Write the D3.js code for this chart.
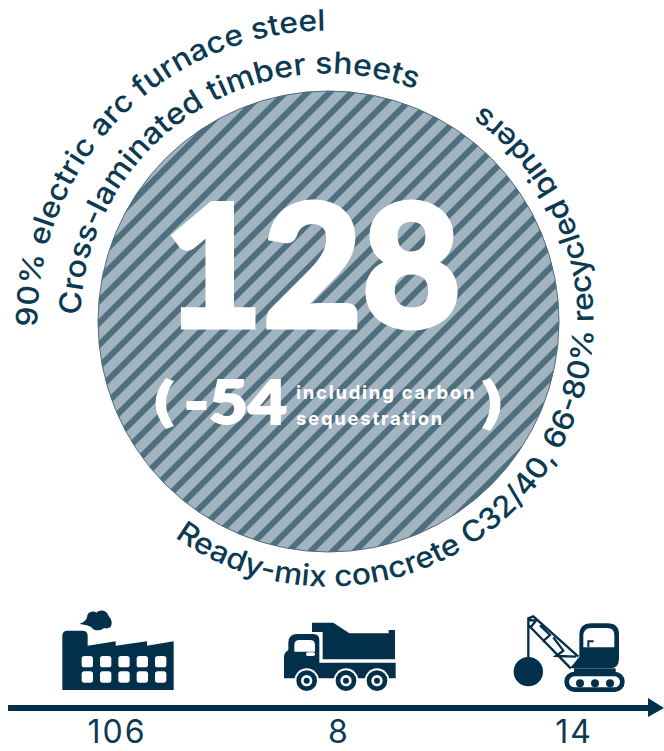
<!DOCTYPE html>
<html>
<head>
<meta charset="utf-8">
<script src="https://cdnjs.cloudflare.com/ajax/libs/d3/7.8.5/d3.min.js"></script>
<style>
html,body{margin:0;padding:0;background:#fff}
svg{display:block}
</style>
</head>
<body>
<svg id="chart" width="664" height="751"></svg>
<script>
// Embodied carbon totals
const totalValue = [128];
const sequestrationValue = [-54];
const sequestrationNote = ["including carbon", "sequestration"];
const materialLabels = [
  "90% electric arc furnace steel",
  "Cross-laminated timber sheets",
  "Ready-mix concrete C32/40, 66-80% recycled binders"
];
const stages = ["factory", "truck", "crane"];
const stageValues = [106, 8, 14];

const DARK = "#02304a", TEXT = "#0c3a52";
const svg = d3.select("#chart");
const cx = 328.5, cy = 321.5;

// Circle area follows the total
const radius = d3.scaleSqrt().domain([0, 128]).range([0, 230.5]);
const stageX = d3.scaleOrdinal().domain(stages).range([117, 339, 574]);
const r0 = radius(totalValue[0]);

const defs = svg.append("defs");
defs.append("clipPath").attr("id", "disc")
  .append("circle").attr("cx", cx).attr("cy", cy).attr("r", r0);

svg.append("circle")
  .attr("cx", cx).attr("cy", cy).attr("r", r0)
  .attr("fill", "#a2b4bf").attr("stroke", "#4f6f7e").attr("stroke-width", 1);

// Diagonal hatching, one line per step of x + y
const stripeStep = 22, stripeWidth = 6;
svg.append("g").attr("clip-path", "url(#disc)")
  .selectAll("line")
  .data(d3.range(-32, 52))
  .join("line")
  .attr("x1", k => 774 + k * stripeStep)
  .attr("y1", 0)
  .attr("x2", k => 774 + k * stripeStep - 751)
  .attr("y2", 751)
  .attr("stroke", "#4f6f7e").attr("stroke-width", stripeWidth);

// Curved material labels around the circle
const deg = d => d * Math.PI / 180;
const arcs = [
  { r: 291, a0: 179, a1: 285, ccw: false, len: 459, size: 29.5 },
  { r: 248, a0: 181.5, a1: 300, ccw: false, len: 472, size: 30 },
  { r: 265, a0: 125.5, a1: -65, ccw: true, len: 832, size: 29.5 }
];
arcs.forEach((a, i) => {
  const p = d3.path();
  p.arc(cx, cy, a.r, deg(a.a0), deg(a.a1), a.ccw);
  defs.append("path").attr("id", "arc" + i).attr("d", p.toString());
  svg.append("text")
    .attr("font-family", "Inter").attr("font-weight", 500)
    .attr("font-size", a.size).attr("fill", TEXT)
    .append("textPath")
    .attr("href", "#arc" + i)
    .attr("textLength", a.len).attr("lengthAdjust", "spacingAndGlyphs")
    .text(materialLabels[i]);
});

// Centre figures
svg.append("text")
  .attr("x", 164).attr("y", 327)
  .attr("textLength", 297).attr("lengthAdjust", "spacingAndGlyphs")
  .attr("font-family", "Lato").attr("font-weight", 900).attr("font-size", 170)
  .attr("stroke", "#fff").attr("stroke-width", 5).attr("stroke-linejoin", "miter")
  .attr("fill", "#fff").text(totalValue[0]);
svg.append("text")
  .attr("x", 184).attr("y", 424)
  .attr("textLength", 103).attr("lengthAdjust", "spacingAndGlyphs")
  .attr("font-family", "Lato").attr("font-weight", 900).attr("font-size", 60)
  .attr("stroke", "#fff").attr("stroke-width", 2)
  .attr("fill", "#fff").text(String(sequestrationValue[0]));
sequestrationNote.forEach((t, i) => {
  svg.append("text")
    .attr("x", 296).attr("y", 399 + i * 26)
    .attr("font-family", "Inter").attr("font-weight", 700).attr("font-size", 18.5)
    .attr("letter-spacing", 1.75).attr("fill", "#fff").text(t);
});
const parenShapes = [
  "M166 378 L174 381 Q158 403 174 426 L166 429 Q145 403 166 378 Z",
  "M490 378 L482 381 Q498 404 482 428 L490 431 Q511 404 490 378 Z"
];
svg.selectAll("path.paren").data(parenShapes).join("path")
  .attr("class", "paren").attr("d", d => d).attr("fill", "#fff");

// Timeline arrow
const axisLine = d3.line();
svg.append("path")
  .attr("d", axisLine([[8, 708], [650, 708]]))
  .attr("stroke", DARK).attr("stroke-width", 6).attr("fill", "none");
svg.append("path")
  .attr("d", d3.line()([[648, 698], [664, 708], [648, 717]]) + "Z")
  .attr("fill", DARK);

// Stage values
svg.selectAll("text.stage").data(stages).join("text")
  .attr("class", "stage")
  .attr("x", d => stageX(d)).attr("y", 743)
  .attr("text-anchor", "middle")
  .attr("font-family", "Inter").attr("font-weight", 400).attr("font-size", 32)
  .attr("letter-spacing", 2)
  .attr("fill", TEXT)
  .text((d, i) => stageValues[i]);

// Stage icons, authored at three times their drawn size
const icon = (ox, oy) => svg.append("g").attr("transform", `translate(${ox} ${oy}) scale(${1/3})`);

// Factory
const factory = icon(0, 600);
factory.append("path").attr("fill", DARK).attr("d",
  "M187 270 V108 Q187 92 203 92 H247 Q263 92 263 108 V137 L347 124 V137 L441 124 V137 L521 124 V270 Z");
factory.append("path").attr("fill", DARK).attr("d",
  "M238 72 C252 68 262 58 262 46 C266 34 282 32 290 38 C298 28 318 30 324 44 C328 52 336 58 335 70 C335 84 322 88 312 84 C304 92 286 94 278 86 C270 76 254 74 238 72 Z");
d3.range(10).forEach(i => {
  factory.append("rect")
    .attr("x", 245 + (i % 5) * 55).attr("y", 168 + Math.floor(i / 5) * 46)
    .attr("width", 34).attr("height", 34).attr("rx", 8).attr("fill", "#fff");
});

// Dump truck
const truck = icon(260, 600);
truck.append("path").attr("fill", DARK).attr("d",
  "M156 68 H220 L268 100 H386 V90 H405 V178 H188 V96 H156 Z");
truck.append("path").attr("fill", DARK).attr("d",
  "M72 235 V170 Q72 158 85 150 V128 Q85 102 112 102 H160 Q178 102 178 120 V188 H407 V235 Z");
truck.append("path").attr("fill", "#fff").attr("d",
  "M103 155 V136 Q103 120 118 120 H150 Q165 120 165 136 V155 Z");
truck.append("rect").attr("x", 138).attr("y", 157).attr("width", 27).attr("height", 11).attr("rx", 5).attr("fill", "#fff");
[140, 258, 351].forEach(x => {
  truck.append("circle").attr("cx", x).attr("cy", 242).attr("r", 37).attr("fill", "#fff");
  truck.append("circle").attr("cx", x).attr("cy", 242).attr("r", 31).attr("fill", DARK);
  truck.append("circle").attr("cx", x).attr("cy", 242).attr("r", 17).attr("fill", "#fff");
  truck.append("circle").attr("cx", x).attr("cy", 242).attr("r", 9).attr("fill", DARK);
});

// Wrecking crane
const crane = icon(500, 600);
crane.append("circle").attr("cx", 85).attr("cy", 215).attr("r", 44).attr("fill", DARK);
crane.append("path").attr("fill", "none").attr("stroke", DARK).attr("stroke-width", 7).attr("d",
  "M85 175 V55 L100 49 L235 170 M85 75 L212 205 M85 60 L108 62 L92 82 M120 76 L150 105 L128 125 M160 112 L190 152 L168 168 L228 170");
crane.append("path").attr("fill", DARK).attr("d",
  "M210 205 L238 170 V106 Q238 70 274 70 H322 Q357 70 357 104 V176 Q357 205 330 205 Z");
crane.append("path").attr("fill", "#fff").attr("d",
  "M250 142 V108 Q250 84 274 84 H322 Q343 84 343 106 V142 Z");
crane.append("path").attr("fill", "none").attr("stroke", DARK).attr("stroke-width", 6).attr("d",
  "M265 142 V124 H281");
crane.append("rect").attr("x", 222).attr("y", 205).attr("width", 125).attr("height", 14).attr("fill", DARK);
crane.append("rect").attr("x", 200).attr("y", 222).attr("width", 167).attr("height", 47).attr("rx", 23)
  .attr("fill", "#fff").attr("stroke", DARK).attr("stroke-width", 14);
[240, 285, 330].forEach(x => {
  crane.append("circle").attr("cx", x).attr("cy", 250).attr("r", 12).attr("fill", DARK);
});
</script>
</body>
</html>
